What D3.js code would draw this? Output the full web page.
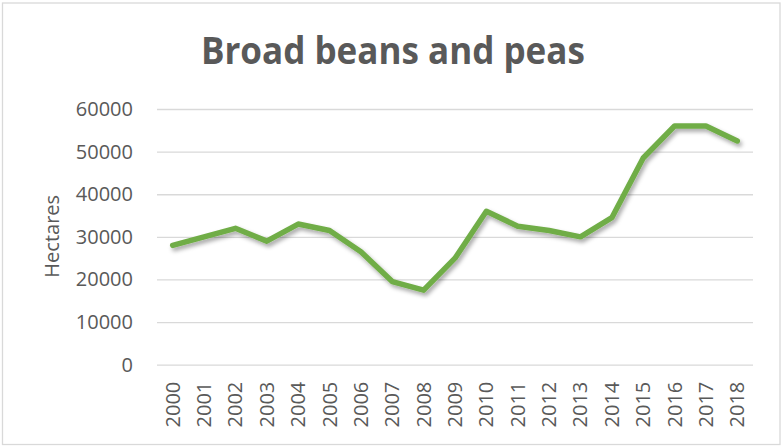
<!DOCTYPE html>
<html>
<head>
<meta charset="utf-8">
<script src="https://cdn.jsdelivr.net/npm/d3@7"></script>
<style>
  html, body { margin: 0; padding: 0; background: #fff; }
  svg { display: block; }
  text { font-family: "Open Sans", "Noto Sans", sans-serif; fill: #595959; }
</style>
</head>
<body>
<svg id="chart" width="782" height="446"></svg>
<script>
// Area sown with broad beans and peas, by year
const years = ["2000","2001","2002","2003","2004","2005","2006","2007","2008","2009",
               "2010","2011","2012","2013","2014","2015","2016","2017","2018"];
const hectares = [28000, 30000, 32000, 29000, 33000, 31500, 26500, 19500, 17500, 25000,
                  36000, 32500, 31500, 30000, 34500, 48500, 56000, 56000, 52500];
const yTicks = [0, 10000, 20000, 30000, 40000, 50000, 60000];
const titleText = "Broad beans and peas";
const yAxisTitle = "Hectares";

const svg = d3.select("#chart");
const W = 782, H = 446;
const plot = { left: 157, right: 753, top: 109, bottom: 364.7 };

// outer frame of the chart area
svg.append("rect")
  .attr("x", 2.5).attr("y", 3).attr("width", W - 4.5).attr("height", H - 4.5)
  .attr("fill", "#fff").attr("stroke", "#D9D9D9").attr("stroke-width", 1.3);

// soft drop shadow under the series line
const defs = svg.append("defs");
const f = defs.append("filter").attr("id", "lineShadow")
  .attr("x", "-10%").attr("y", "-10%").attr("width", "120%").attr("height", "130%");
f.append("feDropShadow")
  .attr("dx", 2).attr("dy", 3).attr("stdDeviation", 2)
  .attr("flood-color", "#000").attr("flood-opacity", 0.35);

const x = d3.scaleBand().domain(years).range([plot.left, plot.right]).padding(0);
const y = d3.scaleLinear().domain([0, 60000]).range([plot.bottom, plot.top]);

// y axis with horizontal gridlines
const yAxis = svg.append("g")
  .attr("transform", `translate(${plot.left},0)`)
  .call(d3.axisLeft(y).tickValues(yTicks).tickFormat(d3.format("d"))
    .tickSize(-(plot.right - plot.left)).tickPadding(24));
yAxis.select(".domain").remove();
yAxis.selectAll(".tick line").attr("stroke", "#D9D9D9").attr("stroke-width", 1.3);
yAxis.selectAll(".tick text")
  .attr("font-size", 20).attr("fill", "#595959")
  .style("font-family", "'Open Sans', sans-serif");

// x axis with rotated year labels
const xAxis = svg.append("g")
  .attr("transform", `translate(0,${plot.bottom})`)
  .call(d3.axisBottom(x).tickSize(0));
xAxis.select(".domain").remove();
xAxis.selectAll(".tick text")
  .attr("font-size", 20).attr("fill", "#595959")
  .style("font-family", "'Open Sans', sans-serif")
  .attr("transform", "rotate(-90)")
  .attr("text-anchor", "end")
  .attr("x", -17).attr("y", 0).attr("dy", "0.35em");

// y axis title
svg.append("text")
  .attr("transform", "translate(59,236.3) rotate(-90)")
  .attr("text-anchor", "middle")
  .attr("font-size", 20)
  .text(yAxisTitle);

// chart title
const title = svg.append("text")
  .attr("x", 392.9).attr("y", 64.3)
  .attr("text-anchor", "middle")
  .attr("font-size", 38)
  .attr("font-weight", 700)
  .text(titleText);
const tw = title.node().getComputedTextLength();
if (tw > 384) title.attr("textLength", 384).attr("lengthAdjust", "spacingAndGlyphs");

// series line
const line = d3.line()
  .x((d, i) => x(years[i]) + x.bandwidth() / 2)
  .y(d => y(d));
svg.append("path")
  .datum(hectares)
  .attr("d", line)
  .attr("fill", "none")
  .attr("stroke", "#70AD47")
  .attr("stroke-width", 5.5)
  .attr("stroke-linecap", "round")
  .attr("stroke-linejoin", "round")
  .attr("filter", "url(#lineShadow)");
</script>
</body>
</html>
